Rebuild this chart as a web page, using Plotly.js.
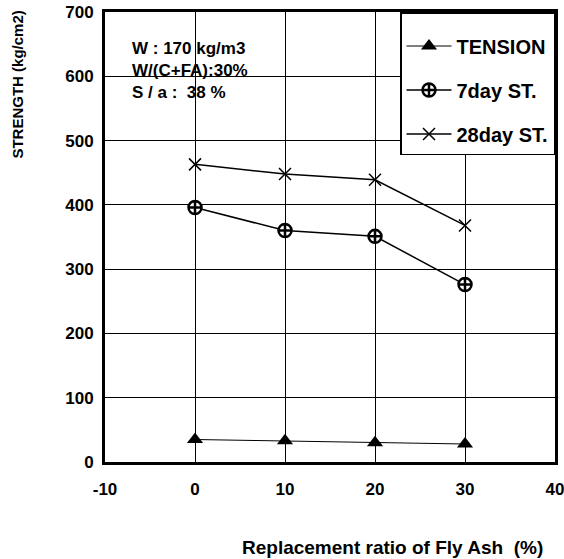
<!DOCTYPE html>
<html><head><meta charset="utf-8">
<script src="https://cdn.plot.ly/plotly-3.0.1.min.js"></script>
<style>body{margin:0;background:#fff}#c{width:564px;height:559px}</style>
</head><body><div id="c"></div>
<script>
const ratio = [0, 10, 20, 30];
const tension = [35, 33, 30, 28];
const st7 = [396, 360, 351, 276];
const st28 = [463, 448, 439, 368];
const xTicks = [-10, 0, 10, 20, 30, 40];
const yTicks = [0, 100, 200, 300, 400, 500, 600, 700];
const infoLines = ["W : 170 kg/m3", "W/(C+FA):30%", "S / a :  38 %"];

const F = "Liberation Sans, Arial, sans-serif";
const traces = [
  {x: ratio, y: tension, name: "TENSION", mode: "lines+markers", legendgroup: "a",
   line: {color: "#000", width: 1},
   marker: {symbol: "triangle-up", size: 14, color: "#000"}},
  {x: ratio, y: st7, name: "7day ST.", mode: "lines+markers", legendgroup: "b",
   line: {color: "#000", width: 1.5},
   marker: {symbol: "circle-cross", size: 13, color: "#fff", line: {color: "#000", width: 2.5}}},
  {x: ratio, y: st28, name: "28day ST.", mode: "lines+markers", legendgroup: "c",
   line: {color: "#000", width: 1.5},
   marker: {symbol: "x-thin-open", size: 12, color: "#000", line: {color: "#000", width: 1.5}}}
];
const layout = {
  width: 564, height: 559,
  margin: {l: 105, r: 9, t: 12, b: 97},
  paper_bgcolor: "#fff", plot_bgcolor: "#fff",
  font: {family: F, color: "#000"},
  showlegend: true,
  legend: {x: 1, xanchor: "right", y: 1, yanchor: "top",
    bgcolor: "#fff", bordercolor: "#000", borderwidth: 1.5,
    title: {text: " ", font: {size: 10}},
    font: {family: F, size: 20, weight: "bold"},
    tracegroupgap: 15, itemwidth: 45},
  xaxis: {range: [-10, 40], tickvals: xTicks, ticktext: xTicks.map(String),
    showgrid: true, gridcolor: "#000", gridwidth: 1, zeroline: false,
    showline: true, linecolor: "#000", linewidth: 3, mirror: true,
    ticks: "", ticklabelstandoff: 10, ticklabeloverflow: "allow",
    tickfont: {family: F, size: 17, weight: "bold"}},
  yaxis: {range: [0, 700], tickvals: yTicks, ticktext: yTicks.map(String),
    showgrid: true, gridcolor: "#000", gridwidth: 1, zeroline: false,
    showline: true, linecolor: "#000", linewidth: 3, mirror: true,
    ticks: "", ticklabelstandoff: 5, ticklabeloverflow: "allow",
    tickfont: {family: F, size: 17, weight: "bold"}},
  annotations: [
    {text: "STRENGTH (kg/cm2)", xref: "paper", yref: "paper", x: -0.194, y: 0.838,
     textangle: -90, showarrow: false, xanchor: "center", yanchor: "middle",
     font: {family: F, size: 15, weight: "bold"}},
    {text: "Replacement ratio of Fly Ash  (%)", xref: "paper", yref: "paper",
     x: 0.978, y: -0.191, xanchor: "right", yanchor: "middle", showarrow: false,
     font: {family: F, size: 19, weight: "bold"}},
    {text: infoLines.join("<br>"), xref: "paper", yref: "paper", x: 0.055, y: 0.944,
     xanchor: "left", yanchor: "top", align: "left", showarrow: false,
     font: {family: F, size: 17, weight: "bold"}}
  ]
};
Plotly.newPlot("c", traces, layout, {displayModeBar: false});
</script></body></html>
